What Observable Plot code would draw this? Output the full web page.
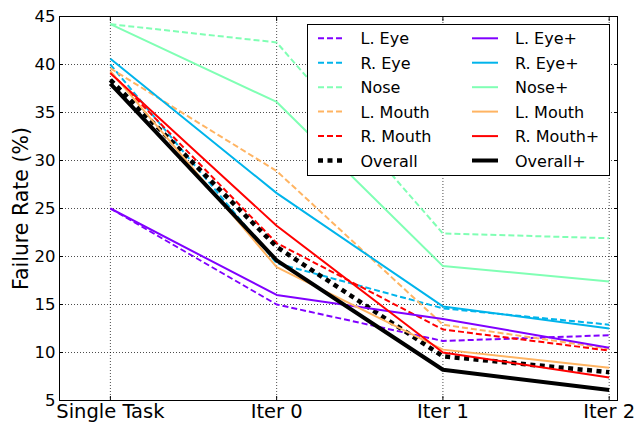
<!DOCTYPE html>
<html><head><meta charset="utf-8">
<script src="https://cdn.jsdelivr.net/npm/d3@7"></script>
<script src="https://cdn.jsdelivr.net/npm/@observablehq/plot@0.6"></script>
<style>
html,body{margin:0;padding:0;background:#fff;}
#wrap{position:relative;width:644px;height:423px;font-family:"DejaVu Sans",sans-serif;}
#wrap svg{display:block;}
#legend{position:absolute;left:0;top:0;}
</style></head><body><div id="wrap"></div>
<script>
const categories = ["Single Task", "Iter 0", "Iter 1", "Iter 2"];
const yTicks = [5, 10, 15, 20, 25, 30, 35, 40, 45];
const yLabel = "Failure Rate (%)";

const lEye        = [25.0, 15.0, 11.2, 11.8];
const rEye        = [40.0, 19.3, 14.6, 12.9];
const nose        = [44.2, 42.3, 22.4, 21.9];
const lMouth      = [39.6, 28.9, 12.9, 10.4];
const rMouth      = [39.2, 21.4, 12.4, 10.2];
const overall     = [38.4, 21.0, 9.6, 7.95];
const lEyePlus    = [25.0, 16.0, 13.5, 10.5];
const rEyePlus    = [40.6, 26.6, 14.8, 12.5];
const nosePlus    = [44.2, 36.1, 19.0, 17.4];
const lMouthPlus  = [39.3, 18.9, 10.3, 8.4];
const rMouthPlus  = [39.1, 23.2, 10.0, 7.4];
const overallPlus = [38.0, 19.6, 8.2, 6.1];

const seriesNames = ["L. Eye", "R. Eye", "Nose", "L. Mouth", "R. Mouth", "Overall",
                     "L. Eye+", "R. Eye+", "Nose+", "L. Mouth", "R. Mouth+", "Overall+"];
const seriesValues = [lEye, rEye, nose, lMouth, rMouth, overall,
                      lEyePlus, rEyePlus, nosePlus, lMouthPlus, rMouthPlus, overallPlus];

const colors = ["#8000ff", "#00b4eb", "#80ffb4", "#ffb462", "#ff0000", "#000000"];
const styleFor = (i) => {
  const c = colors[i % 6];
  const dashed = i < 6;
  const black = (i % 6) === 5;
  return {
    stroke: c,
    strokeWidth: black ? (dashed ? 4.5 : 4) : 2,
    strokeDasharray: dashed ? (black ? "5 4.5" : "6 3") : null
  };
};

const W = 644, H = 423;
const mL = 59, mR = 27, mT = 16, mB = 23;

const lineMarks = seriesValues.map((vals, i) => {
  const data = vals.map((v, k) => ({x: k, y: v}));
  const s = styleFor(i);
  return Plot.line(data, {x: "x", y: "y", stroke: s.stroke, strokeWidth: s.strokeWidth,
    strokeDasharray: s.strokeDasharray, strokeLinecap: "butt", strokeLinejoin: "round"});
});

const xIdx = categories.map((c, i) => i);

const chart = Plot.plot({
  width: W, height: H,
  marginLeft: mL, marginRight: mR, marginTop: mT, marginBottom: mB,
  style: {fontFamily: "DejaVu Sans", background: "#fff", color: "#000", overflow: "visible"},
  x: {type: "linear", domain: [-0.306, 3.05]},
  y: {domain: [5, 45]},
  marks: [
    Plot.gridX(xIdx, {stroke: "#000", strokeOpacity: 0.7, strokeDasharray: "1 2", strokeWidth: 1}),
    Plot.gridY(yTicks, {stroke: "#000", strokeOpacity: 0.7, strokeDasharray: "1 2", strokeWidth: 1}),
    ...lineMarks,
    Plot.frame({stroke: "#000", strokeWidth: 1}),
    Plot.axisX(xIdx, {anchor: "bottom", tickSize: 0, tickPadding: 4, fontSize: 19.5,
      tickFormat: (d) => categories[d], label: null}),
    Plot.axisX(xIdx, {anchor: "bottom", tickSize: 4, dy: -4, fill: "none", label: null}),
    Plot.axisX(xIdx, {anchor: "top", tickSize: 4, dy: 4, fill: "none", label: null}),
    Plot.axisY(yTicks, {anchor: "left", tickSize: 0, tickPadding: 4, fontSize: 16.5,
      tickFormat: (d) => String(d), label: null}),
    Plot.axisY(yTicks, {anchor: "left", tickSize: 4, dx: 4, fill: "none", label: null}),
    Plot.axisY(yTicks, {anchor: "right", tickSize: 4, dx: -4, fill: "none", label: null}),
    Plot.text([yLabel], {text: (d) => d, frameAnchor: "left", textAnchor: "middle",
      rotate: -90, dx: -38, fontSize: 20.5, fill: "#000"})
  ]
});
const wrap = document.getElementById("wrap");
wrap.appendChild(chart);

// Legend overlay
const lg = d3.select(wrap).append("svg").attr("id", "legend")
  .attr("width", W).attr("height", H)
  .style("font-family", "DejaVu Sans");
lg.append("rect").attr("x", 307.5).attr("y", 24.5).attr("width", 302).attr("height", 151)
  .attr("fill", "#fff").attr("stroke", "#000").attr("stroke-width", 1);
const rowY = [38.3, 62.7, 87.2, 111.6, 136.1, 160.5];
const cols = [{x1: 318, x2: 342, tx: 360.5}, {x1: 472, x2: 498, tx: 515}];
seriesNames.forEach((name, i) => {
  const col = cols[i < 6 ? 0 : 1];
  const y = rowY[i % 6];
  const s = styleFor(i);
  lg.append("line").attr("x1", col.x1).attr("x2", col.x2).attr("y1", y).attr("y2", y)
    .attr("stroke", s.stroke).attr("stroke-width", s.strokeWidth)
    .attr("stroke-dasharray", s.strokeDasharray);
  lg.append("text").attr("x", col.tx).attr("y", y + 6).attr("font-size", 16)
    .attr("fill", "#000").text(name);
});
</script></body></html>
